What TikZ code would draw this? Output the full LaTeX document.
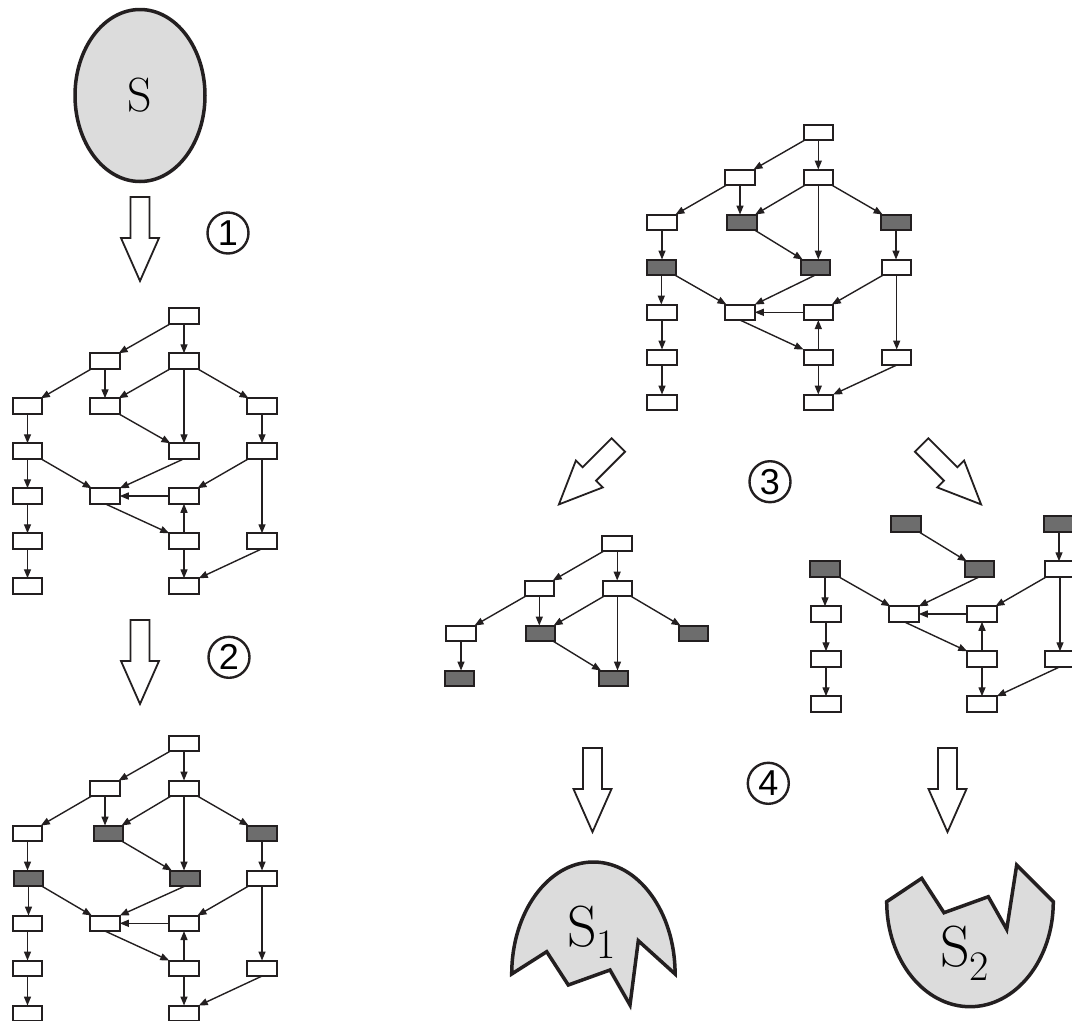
\documentclass[tikz,border=0pt]{standalone}
\usepackage{fontspec}
\newfontfamily\digitfont{Liberation Sans}
\usetikzlibrary{arrows.meta,shapes.geometric}
\definecolor{ink}{HTML}{231F20}
\definecolor{darkbox}{HTML}{6D6D6D}
\definecolor{pale}{HTML}{DCDCDC}
\tikzset{
  box/.style={draw=ink, line width=2pt, fill=white, minimum width=29.5pt,
    minimum height=15.5pt, inner sep=0pt, outer sep=0pt},
  dbox/.style={box, fill=darkbox},
  link/.style={draw=ink, line width=1.4pt, -{Triangle[length=9pt,width=7pt]}},
  numbered/.style={circle, draw=ink, line width=2.4pt, minimum size=41pt,
    inner sep=0pt, font=\digitfont\fontsize{36}{36}\selectfont},
  blob/.style={draw=ink, line width=3.5pt, fill=pale, line join=miter},
  fat/.style={draw=ink, line width=1.8pt, fill=white, line join=miter}
}
% hollow block arrow pointing along +y (downwards), back edge centred at the origin
\newcommand\hollowarrow{\path[fat] (-9.5,0) -- (9.5,0) -- (9.5,41) -- (19,41)
    -- (0,84) -- (-19,41) -- (-9.5,41) -- cycle;}
\begin{document}
\begin{tikzpicture}[x=1pt,y=-1pt]
\useasboundingbox (0,0) rectangle (1072,1021);
\clip (0,0) rectangle (1072,1021);

% ---------- source set S ----------
\node[ellipse, blob, minimum width=130pt, minimum height=172pt, inner sep=0pt,
  font=\fontsize{48}{48}\selectfont] (s0) at (140,95.5) {S};

% ---------- block arrows ----------
\begin{scope}[shift={(140,197)}] \hollowarrow \end{scope}
\begin{scope}[shift={(140,620)}] \hollowarrow \end{scope}
\begin{scope}[shift={(618.3,445)}, rotate=-45] \hollowarrow \end{scope}
\begin{scope}[shift={(921.7,445)}, rotate=45] \hollowarrow \end{scope}
\begin{scope}[shift={(592.5,748)}] \hollowarrow \end{scope}
\begin{scope}[shift={(947.5,748)}] \hollowarrow \end{scope}

% ---------- step numbers ----------
\node[numbered] (n1) at (228,233) {1};
\node[numbered] (n2) at (229,657.3) {2};
\node[numbered] (n3) at (770,481.7) {3};
\node[numbered] (n4) at (768.3,783.3) {4};

% ---------- graph a: full dependency graph ----------
\begin{scope}[shift={(27.5,316)}]
\node[box] (a-r0c2) at (156.5,0) {};
\node[box] (a-r1c1) at (77.5,45) {};
\node[box] (a-r1c2) at (156.5,45) {};
\node[box] (a-r2c0) at (0,90) {};
\node[box] (a-r2c1) at (77.5,90) {};
\node[box] (a-r2c3) at (234.5,90) {};
\node[box] (a-r3c0) at (0,135) {};
\node[box] (a-r3c2) at (156.5,135) {};
\node[box] (a-r3c3) at (234.5,135) {};
\node[box] (a-r4c0) at (0,180) {};
\node[box] (a-r4c1) at (77.5,180) {};
\node[box] (a-r4c2) at (156.5,180) {};
\node[box] (a-r5c0) at (0,225) {};
\node[box] (a-r5c2) at (156.5,225) {};
\node[box] (a-r5c3) at (234.5,225) {};
\node[box] (a-r6c0) at (0,270) {};
\node[box] (a-r6c2) at (156.5,270) {};
\end{scope}

% ---------- graph b: marked nodes ----------
\begin{scope}[shift={(27.5,743.3)}]
\node[box] (b-r0c2) at (156.5,0) {};
\node[box] (b-r1c1) at (77.5,45) {};
\node[box] (b-r1c2) at (156.5,45) {};
\node[box] (b-r2c0) at (0,90) {};
\node[dbox] (b-r2c1) at (81,90) {};
\node[dbox] (b-r2c3) at (234.5,90) {};
\node[dbox] (b-r3c0) at (1,135) {};
\node[dbox] (b-r3c2) at (157.5,135) {};
\node[box] (b-r3c3) at (234.5,135) {};
\node[box] (b-r4c0) at (0,180) {};
\node[box] (b-r4c1) at (77.5,180) {};
\node[box] (b-r4c2) at (156.5,180) {};
\node[box] (b-r5c0) at (0,225) {};
\node[box] (b-r5c2) at (156.5,225) {};
\node[box] (b-r5c3) at (234.5,225) {};
\node[box] (b-r6c0) at (0,270) {};
\node[box] (b-r6c2) at (156.5,270) {};
\end{scope}

% ---------- graph c: marked nodes, right column ----------
\begin{scope}[shift={(662,132.3)}]
\node[box] (c-r0c2) at (156.3,0) {};
\node[box] (c-r1c1) at (78,45) {};
\node[box] (c-r1c2) at (156.3,45) {};
\node[box] (c-r2c0) at (0,90) {};
\node[dbox] (c-r2c1) at (80,90) {};
\node[dbox] (c-r2c3) at (234,90) {};
\node[dbox] (c-r3c0) at (-0.7,135) {};
\node[dbox] (c-r3c2) at (153.3,135) {};
\node[box] (c-r3c3) at (234.7,135) {};
\node[box] (c-r4c0) at (0,180) {};
\node[box] (c-r4c1) at (78,180) {};
\node[box] (c-r4c2) at (156.3,180) {};
\node[box] (c-r5c0) at (0,225) {};
\node[box] (c-r5c2) at (156.3,225) {};
\node[box] (c-r5c3) at (234.7,225) {};
\node[box] (c-r6c0) at (0,270) {};
\node[box] (c-r6c2) at (156.3,270) {};
\end{scope}

% ---------- graph d: upper part ----------
\begin{scope}[shift={(461,543.3)}]
\node[box] (d-r0c2) at (156.2,0) {};
\node[box] (d-r1c1) at (78.3,45) {};
\node[box] (d-r1c2) at (156.5,45) {};
\node[box] (d-r2c0) at (0,90) {};
\node[dbox] (d-r2c1) at (79.3,90) {};
\node[dbox] (d-r2c3) at (232.7,90) {};
\node[dbox] (d-r3c0) at (-1.7,135) {};
\node[dbox] (d-r3c2) at (152.7,135) {};
\end{scope}

% ---------- graph e: lower part ----------
\begin{scope}[shift={(826,434)}]
\node[dbox] (e-r2c1) at (80,90) {};
\node[dbox] (e-r2c3) at (233,90) {};
\node[dbox] (e-r3c0) at (-1,135) {};
\node[dbox] (e-r3c2) at (153.5,135) {};
\node[box] (e-r3c3) at (234,135) {};
\node[box] (e-r4c0) at (0,180) {};
\node[box] (e-r4c1) at (78,180) {};
\node[box] (e-r4c2) at (156,180) {};
\node[box] (e-r5c0) at (0,225) {};
\node[box] (e-r5c2) at (156,225) {};
\node[box] (e-r5c3) at (234,225) {};
\node[box] (e-r6c0) at (0,270) {};
\node[box] (e-r6c2) at (156,270) {};
\end{scope}

% ---------- edges ----------
% slanted edges, centre to centre
\foreach \g in {a,b,c}{
  \foreach \s/\t in {r0c2/r1c1, r1c1/r2c0, r1c2/r2c1, r1c2/r2c3,
                     r2c1/r3c2, r3c0/r4c1, r3c3/r4c2}
    \draw[link] (\g-\s) -- (\g-\t);
}
\foreach \s/\t in {r0c2/r1c1, r1c1/r2c0, r1c2/r2c1, r1c2/r2c3, r2c1/r3c2}
  \draw[link] (d-\s) -- (d-\t);
\foreach \s/\t in {r2c1/r3c2, r3c0/r4c1, r3c3/r4c2}
  \draw[link] (e-\s) -- (e-\t);

% vertical edges
\foreach \g in {a,b,c}{
  \foreach \s/\t in {r0c2/r1c2, r1c1/r2c1, r1c2/r3c2, r2c0/r3c0, r2c3/r3c3,
                     r3c0/r4c0, r3c3/r5c3, r4c0/r5c0, r5c0/r6c0, r5c2/r6c2}
    \draw[link] (\g-\s.south) -- (\g-\s.south |- \g-\t.north);
}
\foreach \s/\t in {r0c2/r1c2, r1c1/r2c1, r1c2/r3c2, r2c0/r3c0}
  \draw[link] (d-\s.south) -- (d-\s.south |- d-\t.north);
\foreach \s/\t in {r2c3/r3c3, r3c0/r4c0, r3c3/r5c3, r4c0/r5c0, r5c0/r6c0, r5c2/r6c2}
  \draw[link] (e-\s.south) -- (e-\s.south |- e-\t.north);

% lower cycle and joins
\foreach \g in {a,b,c,e}{
  \draw[link] (\g-r3c2.south) -- (\g-r4c1.north east);
  \draw[link] (\g-r4c2.west) -- (\g-r4c1.east);
  \draw[link] (\g-r4c1.south) -- (\g-r5c2.north west);
  \draw[link] (\g-r5c2.north) -- (\g-r5c2.north |- \g-r4c2.south);
  \draw[link] (\g-r5c3.south) -- (\g-r6c2.north east);
}

% ---------- resulting parts S1 and S2 ----------
\path[blob] (511.7,974) arc[start angle=180, end angle=360, x radius=81.7, y radius=112]
  -- (638.3,940.7) -- (630,1005) -- (610,970) -- (568.3,985) -- (546.7,951.7) -- cycle;
\node[anchor=base west, inner sep=0pt, font=\fontsize{58}{58}\selectfont] (s1)
  at (567,946) {S\raisebox{-12pt}{\fontsize{42}{42}\selectfont 1}};

\path[blob] (886.7,901.7) -- (921.7,878.3) -- (944,912.7) -- (988.3,896.7)
  -- (1006.7,929.3) -- (1016.7,865) -- (1053.3,901.7)
  arc[start angle=0, end angle=180, x radius=83.3, y radius=105] -- cycle;
\node[anchor=base west, inner sep=0pt, font=\fontsize{58}{58}\selectfont] (s2)
  at (940,966.7) {S\raisebox{-14pt}{\fontsize{42}{42}\selectfont 2}};
\end{tikzpicture}
\end{document}
